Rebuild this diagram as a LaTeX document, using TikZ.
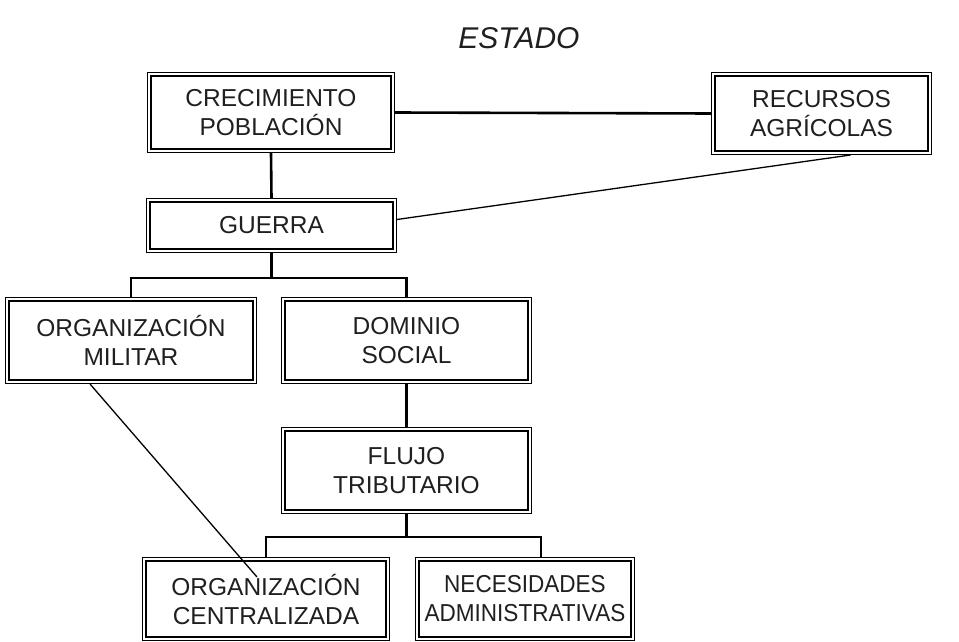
\documentclass[tikz,border=0pt]{standalone}
\usepackage{graphicx}
\usepackage{fontspec}
\setmainfont{Liberation Sans}
\usetikzlibrary{calc}
\begin{document}
\begin{tikzpicture}[x=1pt,y=-1pt,
  box/.style={draw=black, line width=2.8pt, rectangle, inner sep=0pt, outer sep=4pt,
    align=center, text=black!88, font=\fontsize{24.5}{29}\selectfont},
  frame/.style={draw=black, line width=0.9pt},
  conn/.style={draw=black, line width=2.6pt},
  thinconn/.style={draw=black, line width=1.3pt}]
\useasboundingbox (0,0) rectangle (959,642);

\node[font=\itshape\fontsize{30}{34}\selectfont, text=black!88] (title) at (519,38) {ESTADO};

\node[box, minimum width=240pt, minimum height=73pt] (crec) at (271,112.5) {CRECIMIENTO\\POBLACIÓN};
\node[box, minimum width=213pt, minimum height=75pt] (recursos) at (821.5,113.5) {RECURSOS\\AGRÍCOLAS};
\node[box, minimum width=243pt, minimum height=47pt] (guerra) at (271.5,225.5) {GUERRA};
\node[box, minimum width=244pt, minimum height=79pt] (orgmil) at (131,340.5) {ORGANIZACIÓN\\MILITAR};
\node[box, minimum width=243pt, minimum height=79pt] (dominio) at (406.5,340.5) {DOMINIO\\SOCIAL};
\node[box, minimum width=243pt, minimum height=79pt] (flujo) at (406.5,470.5) {FLUJO\\TRIBUTARIO};
\node[box, minimum width=240pt, minimum height=76pt] (orgcen) at (266,599) {ORGANIZACIÓN\\CENTRALIZADA};
\node[box, minimum width=212pt, minimum height=76pt] (neces) at (525,599) {\scalebox{0.92}[1]{NECESIDADES}\\\scalebox{0.92}[1]{ADMINISTRATIVAS}};

\foreach \n in {crec,recursos,guerra,orgmil,dominio,flujo,orgcen,neces}
  \draw[frame] ([shift={(0.45pt,-0.45pt)}]\n.north west) rectangle ([shift={(-0.45pt,0.45pt)}]\n.south east);

% tree connectors
\coordinate (j1) at (271.5,278);
\coordinate (j2) at (406.5,537);
\coordinate (j3) at (541,537);
\draw[conn] (crec.east) -- (recursos.west);
\draw[conn] (crec.south) -- (guerra.north);
\draw[conn] (guerra.south) -- (j1);
\draw[conn, line cap=rect] (orgmil.north) |- (j1) -| (dominio.north);
\draw[conn] (dominio.south) -- (flujo.north);
\draw[conn] (flujo.south) -- (j2);
\draw[conn, line cap=rect] (orgcen.north) |- (j2) -- (j3);
\draw[conn] (j3) -- (j3 |- neces.north);

% thin connectors
\coordinate (rc) at ($(recursos.south)+(29,0)$);
\draw[thinconn] (rc) -- ($(guerra.east)+(0,-6)$);
\coordinate (om) at ($(orgmil.south)+(-41,0)$);
\coordinate (oc) at (257,577);
\draw[thinconn] (om) -- (oc);
\end{tikzpicture}
\end{document}
